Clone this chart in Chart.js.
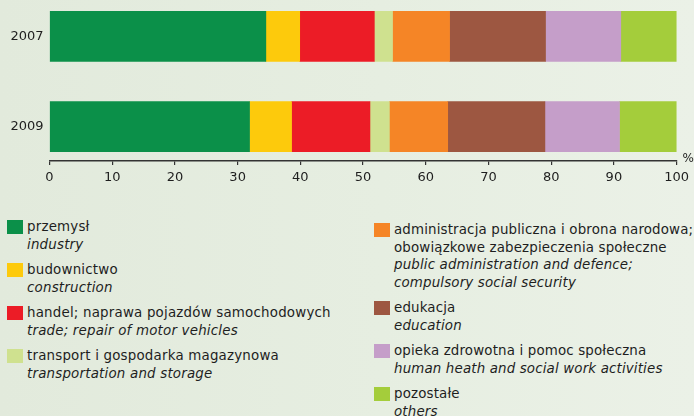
<!DOCTYPE html>
<html><head><meta charset="utf-8">
<script src="https://cdn.jsdelivr.net/npm/chart.js@4.4.1/dist/chart.umd.min.js"></script>
<style>
html,body{margin:0;padding:0;width:694px;height:416px;overflow:hidden;background:linear-gradient(90deg,#e2eadc 0%,#e6eee1 55%,#ebf1e7 100%);font-family:"DejaVu Sans",sans-serif;color:#1e1e1e;}
#c{position:absolute;left:0;top:0;}
.col{position:absolute;font-size:13.4px;letter-spacing:0.2px;line-height:17.5px;}
#legL{left:7px;top:218px;}
#legR{left:374px;top:221px;letter-spacing:0.15px;}
.item{position:relative;padding-left:20px;margin-bottom:8px;white-space:nowrap;}
.sw{position:absolute;left:0;top:2px;width:16px;height:14px;}
.en{font-style:italic;}
</style>
</head><body>
<canvas id="c" width="694" height="200"></canvas>
<div class="col" id="legL"></div>
<div class="col" id="legR"></div>
<script>
// ---- data ----
const categories = ['2007', '2009'];
const xTickValues = [0, 10, 20, 30, 40, 50, 60, 70, 80, 90, 100];
const axisUnit = '%';

const przemysl      = [34.5, 31.9];
const budownictwo   = [5.4, 6.7];
const handel        = [11.9, 12.5];
const transport     = [2.9, 3.1];
const administracja = [9.1, 9.3];
const edukacja      = [15.3, 15.5];
const opieka        = [12.0, 11.9];
const pozostale     = [8.9, 9.1];

const seriesValues = [przemysl, budownictwo, handel, transport, administracja, edukacja, opieka, pozostale];
const namesPL = [
  'przemysł',
  'budownictwo',
  'handel; naprawa pojazdów samochodowych',
  'transport i gospodarka magazynowa',
  'administracja publiczna i obrona narodowa;\nobowiązkowe zabezpieczenia społeczne',
  'edukacja',
  'opieka zdrowotna i pomoc społeczna',
  'pozostałe'
];
const namesEN = [
  'industry',
  'construction',
  'trade; repair of motor vehicles',
  'transportation and storage',
  'public administration and defence;\ncompulsory social security',
  'education',
  'human heath and social work activities',
  'others'
];
// ---- styles ----
const colors = ['#0b9049', '#fdca0c', '#ec1c26', '#cfe18f', '#f58526', '#9d5741', '#c59ec9', '#a4cd3b'];

// ---- legend (HTML, real text) ----
function addItem(col, i) {
  const d = document.createElement('div');
  d.className = 'item';
  const sw = document.createElement('div');
  sw.className = 'sw';
  sw.style.background = colors[i];
  d.appendChild(sw);
  namesPL[i].split('\n').forEach(t => { const l = document.createElement('div'); l.textContent = t; d.appendChild(l); });
  namesEN[i].split('\n').forEach(t => { const l = document.createElement('div'); l.className = 'en'; l.textContent = t; d.appendChild(l); });
  col.appendChild(d);
}
const legL = document.getElementById('legL'), legR = document.getElementById('legR');
namesPL.forEach((_, i) => addItem(i < 4 ? legL : legR, i));

// ---- chart ----
const unitPlugin = {
  id: 'unit',
  afterDraw(chart) {
    const x = chart.scales.x, c = chart.ctx;
    c.save();
    c.fillStyle = '#1e1e1e';
    c.font = '12px "DejaVu Sans"';
    c.textAlign = 'left';
    c.textBaseline = 'middle';
    c.fillText(axisUnit, x.right + 6, x.top - 2);
    c.restore();
  }
};

new Chart(document.getElementById('c'), {
  type: 'bar',
  data: {
    datasets: seriesValues.map((vals, i) => ({
      label: namesPL[i],
      data: vals.map((v, j) => ({ x: v, y: j })),
      backgroundColor: colors[i],
      borderWidth: 0,
      barThickness: 50
    }))
  },
  options: {
    indexAxis: 'y',
    responsive: false,
    animation: false,
    layout: { padding: { left: 0, right: 16, top: 0, bottom: 0 } },
    plugins: { legend: { display: false }, tooltip: { enabled: false } },
    scales: {
      x: {
        type: 'linear', stacked: true, min: 0, max: 100,
        afterBuildTicks: s => { s.ticks = xTickValues.map(v => ({ value: v })); },
        afterFit: s => { s.height = 39; },
        border: { display: true, color: '#333', width: 1.5 },
        grid: { drawOnChartArea: false, drawTicks: true, tickLength: 4, color: '#333', lineWidth: 1.2 },
        ticks: { color: '#1e1e1e', font: { family: 'DejaVu Sans', size: 13 }, padding: 5, maxRotation: 0, autoSkip: false }
      },
      y: {
        type: 'linear', stacked: true, reverse: true, offset: false, min: -0.4016, max: 1.3795,
        afterBuildTicks: s => { s.ticks = categories.map((_, i) => ({ value: i })); },
        afterFit: s => { s.width = 49.5; s.paddingTop = 0; s.paddingBottom = 0; },
        ticks: { callback: v => categories[v], color: '#1e1e1e', font: { family: 'DejaVu Sans', size: 13 }, padding: 6 },
        grid: { display: false, drawTicks: false },
        border: { display: false }
      }
    }
  },
  plugins: [unitPlugin]
});
</script>
</body></html>
